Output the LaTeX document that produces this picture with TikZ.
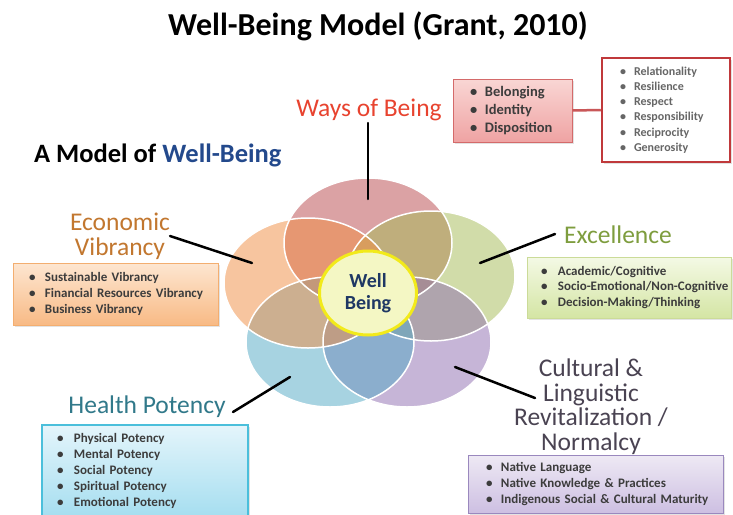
\documentclass[tikz,border=0pt]{standalone}
\usepackage{fontspec}
\setmainfont{Carlito}
\usetikzlibrary{shapes.geometric,shadows}
\definecolor{pinkP}{RGB}{185,71,75}
\definecolor{orangeP}{RGB}{241,141,65}
\definecolor{greenP}{RGB}{165,187,85}
\definecolor{blueP}{RGB}{81,169,197}
\definecolor{purpleP}{RGB}{143,109,177}
\definecolor{wbFill}{HTML}{F4F7C4}
\definecolor{wbDraw}{HTML}{F2EA1A}
\definecolor{wbText}{HTML}{1F3864}
\definecolor{modelBlue}{HTML}{23498C}
\definecolor{waysRed}{HTML}{E8432F}
\definecolor{econBrown}{HTML}{C2772F}
\definecolor{exGreen}{HTML}{7E9D3E}
\definecolor{healthTeal}{HTML}{31798A}
\definecolor{cultGray}{HTML}{4A4352}
\definecolor{txtGray}{HTML}{3C3C3C}
\definecolor{relRed}{HTML}{C0393B}
\definecolor{waysTop}{HTML}{F9D6D4}
\definecolor{waysBot}{HTML}{EFA3A3}
\definecolor{waysLine}{HTML}{D46A6A}
\definecolor{econTop}{HTML}{FDE6D1}
\definecolor{econBot}{HTML}{F8BA85}
\definecolor{econLine}{HTML}{F3AE70}
\definecolor{exTop}{HTML}{F4F9E5}
\definecolor{exBot}{HTML}{D4E5A4}
\definecolor{exLine}{HTML}{CBDB98}
\definecolor{hTop}{HTML}{E4F5FB}
\definecolor{hBot}{HTML}{A6DEF0}
\definecolor{hLine}{HTML}{4BBFDB}
\definecolor{cTop}{HTML}{EEE9F4}
\definecolor{cBot}{HTML}{CDBFE2}
\definecolor{cLine}{HTML}{9A88BE}
\newcommand{\bitem}[2]{\mbox{\makebox[#1][l]{\textbullet}#2}}
\begin{document}
\begin{tikzpicture}[x=1pt,y=-1pt,
  petal/.style={ellipse, draw=none, fill opacity=0.5,
    minimum width=168pt, minimum height=130pt, inner sep=0pt},
  petalline/.style={ellipse, draw=white, line width=1.5pt,
    minimum width=168pt, minimum height=130pt, inner sep=0pt},
  listbox/.style={rectangle, align=left, inner ysep=0pt, text=txtGray,
    font=\bfseries\fontsize{13}{16}\selectfont,
    drop shadow={shadow xshift=2pt, shadow yshift=-2pt, opacity=0.22}},
  lbl/.style={font=\fontsize{25.5}{24.5}\selectfont, inner sep=0pt, align=center},
  conn/.style={line width=2.5pt, black, line cap=round}]
\useasboundingbox (0,0) rectangle (733,514);
\fill[white] (0,0) rectangle (733,514);

% title
\node[font=\bfseries\fontsize{32}{36}\selectfont, anchor=base, inner sep=0pt] (title) at (378,35) {Well-Being Model (Grant, 2010)};
\node[font=\bfseries\fontsize{26.5}{30}\selectfont, anchor=base west, inner sep=0pt] (model) at (34,162) {A Model of \textcolor{modelBlue}{Well-Being}};

% petals (fills)
\node[petal, fill=pinkP] (pink) at (368,243) {};
\node[petal, fill=greenP] (green) at (431,276) {};
\node[petal, fill=purpleP] (purple) at (407,342) {};
\node[petal, fill=blueP] (blue) at (330,342) {};
\node[petal, fill=orangeP] (orange) at (308,283) {};
% petal outlines
\node[petalline] (pinkO) at (pink) {};
\node[petalline] (greenO) at (green) {};
\node[petalline] (purpleO) at (purple) {};
\node[petalline] (blueO) at (blue) {};
\node[petalline] (orangeO) at (orange) {};

% centre
\node[ellipse, fill=wbFill, draw=wbDraw, line width=3pt, minimum width=97pt, minimum height=84pt,
  inner sep=0pt, align=center, text=wbText, font=\bfseries\fontsize{20}{22}\selectfont] (wb) at (368,293) {Well\\Being};

% labels
\node[lbl, text=waysRed, anchor=base] (ways) at (369,116) {Ways of Being};
\node[lbl, text=econBrown, anchor=north] (econ) at (120,213) {Economic\\Vibrancy};
\node[lbl, text=exGreen, anchor=base] (excel) at (618,243) {Excellence};
\node[lbl, text=healthTeal, anchor=base] (health) at (147,413) {Health Potency};
\node[lbl, text=cultGray, anchor=north] (cult) at (591,359) {Cultural \&\\Linguistic\\Revitalization /\\Normalcy};

% connectors
\coordinate (waysA) at (368,123);
\coordinate (waysB) at (368,199);
\coordinate (econA) at (170,236);
\coordinate (econB) at (252,263);
\coordinate (exA) at (555,234);
\coordinate (exB) at (480,263);
\coordinate (healthA) at (233,412);
\coordinate (healthB) at (290,377);
\coordinate (cultA) at (455,367);
\coordinate (cultB) at (535,398);
\draw[conn] (waysA) -- (waysB);
\draw[conn] (econA) -- (econB);
\draw[conn] (exA) -- (exB);
\draw[conn] (healthA) -- (healthB);
\draw[conn] (cultA) -- (cultB);

% list boxes
\node[listbox, draw=relRed, line width=2.5pt, fill=white, text=black!60,
  font=\bfseries\fontsize{12}{15.3}\selectfont,
  inner xsep=18pt, text width=92pt, minimum height=104pt] (rel) at (666,110)
  {\bitem{14pt}{Relationality}\\\bitem{14pt}{Resilience}\\\bitem{14pt}{Respect}\\\bitem{14pt}{Responsibility}\\\bitem{14pt}{Reciprocity}\\\bitem{14pt}{Generosity}};
\node[listbox, draw=waysLine, line width=1pt, top color=waysTop, bottom color=waysBot,
  font=\bfseries\fontsize{14.5}{18}\selectfont,
  inner xsep=17pt, text width=85pt, minimum height=63pt] (waysbox) at (512.5,110.5)
  {\bitem{15pt}{Belonging}\\\bitem{15pt}{Identity}\\\bitem{15pt}{Disposition}};
\draw[line width=2.5pt, relRed!85] (waysbox.east) -- (rel.west);

\node[listbox, draw=econLine, line width=1pt, top color=econTop, bottom color=econBot,
  inner xsep=16pt, text width=173pt, minimum height=62pt] (econbox) at (115.5,294)
  {\bitem{16pt}{Sustainable Vibrancy}\\\bitem{16pt}{Financial Resources Vibrancy}\\\bitem{16pt}{Business Vibrancy}};
\node[listbox, draw=exLine, line width=1pt, top color=exTop, bottom color=exBot,
  font=\bfseries\fontsize{13}{15.5}\selectfont,
  inner xsep=14pt, text width=176pt, minimum height=61pt] (exbox) at (629,287.5)
  {\bitem{17pt}{Academic/Cognitive}\\\bitem{17pt}{Socio-Emotional/Non-Cognitive}\\\bitem{17pt}{Decision-Making/Thinking}};
\node[listbox, draw=hLine, line width=1.5pt, top color=hTop, bottom color=hBot,
  inner xsep=15pt, text width=176pt, minimum height=91pt] (healthbox) at (145,470.5)
  {\bitem{17pt}{Physical Potency}\\\bitem{17pt}{Mental Potency}\\\bitem{17pt}{Social Potency}\\\bitem{17pt}{Spiritual Potency}\\\bitem{17pt}{Emotional Potency}};
\node[listbox, draw=cLine, line width=1pt, top color=cTop, bottom color=cBot,
  inner xsep=18pt, text width=219pt, minimum height=58pt] (cultbox) at (595.5,484)
  {\bitem{15pt}{Native Language}\\\bitem{15pt}{Native Knowledge \& Practices}\\\bitem{15pt}{Indigenous Social \& Cultural Maturity}};
\end{tikzpicture}
\end{document}
